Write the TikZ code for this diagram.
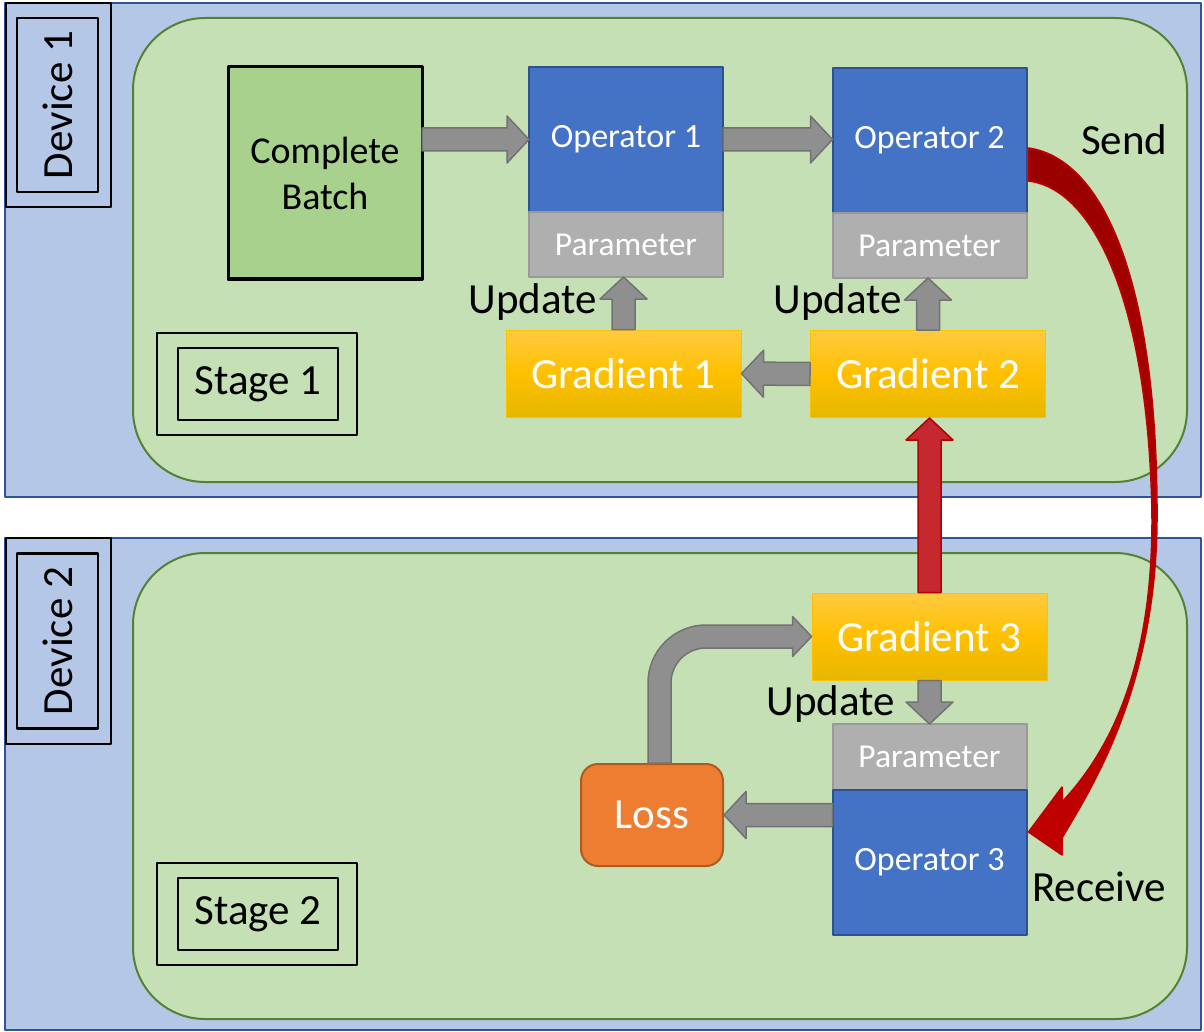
\documentclass[tikz,border=0pt]{standalone}
\usepackage{fontspec}
\setmainfont{Carlito}
\usetikzlibrary{calc,positioning}

\definecolor{devblue}{HTML}{B4C7E7}
\definecolor{devline}{HTML}{2F5597}
\definecolor{stagegreen}{HTML}{C5E0B4}
\definecolor{stageline}{HTML}{548235}
\definecolor{batchgreen}{HTML}{A9D18E}
\definecolor{opblue}{HTML}{4472C4}
\definecolor{opline}{HTML}{2F528F}
\definecolor{pargray}{HTML}{AFAFAF}
\definecolor{parline}{HTML}{999999}
\definecolor{gradtop}{HTML}{FFCA40}
\definecolor{gradmid}{HTML}{FFC000}
\definecolor{gradbot}{HTML}{E6B700}
\definecolor{lossorange}{HTML}{ED7D31}
\definecolor{lossline}{HTML}{AE5A21}
\definecolor{arrgray}{HTML}{8F8F8F}
\definecolor{arrline}{HTML}{727272}
\definecolor{upred}{HTML}{C5282E}
\definecolor{uprline}{HTML}{B00000}
\definecolor{senddark}{HTML}{990000}
\definecolor{sendred}{HTML}{C00000}

% block arrow from #2 to #3 (tip at #3)
\newcommand{\blockarrow}[3][]{%
  \draw[#1] let \p1=#2, \p2=#3, \n1={atan2(\y2-\y1,\x2-\x1)}, \n2={veclen(\x2-\x1,\y2-\y1)} in
    [shift={(\x1,\y1)}, rotate=\n1]
    (0pt,-11.5pt) -- (\n2-22pt,-11.5pt) -- (\n2-22pt,-23.5pt) -- (\n2,0pt)
    -- (\n2-22pt,23.5pt) -- (\n2-22pt,11.5pt) -- (0pt,11.5pt) -- cycle;}

\begin{document}
\begin{tikzpicture}[x=1pt, y=-1pt, line join=round,
	big/.style={font=\fontsize{43}{52}\selectfont},
	devbg/.style={fill=devblue, draw=devline, line width=2pt},
	stagebg/.style={fill=stagegreen, draw=stageline, line width=2pt, rounded corners=72pt},
	labframe/.style={draw=black, line width=2.5pt, inner sep=0pt, outer sep=0pt, big},
	opbox/.style={fill=opblue, draw=opline, line width=2pt, text=white, inner sep=0pt, outer sep=0pt,
		minimum width=194pt, minimum height=145pt, font=\fontsize{34}{40}\selectfont},
	parbox/.style={fill=pargray, draw=parline, line width=2pt, text=white, inner sep=0pt, outer sep=0pt,
		minimum width=194pt, minimum height=65pt, font=\fontsize{33.5}{38}\selectfont},
	gradbox/.style={top color=gradtop, bottom color=gradbot, middle color=gradmid, draw=gradmid,
		line width=1pt, text=white, inner sep=0pt, minimum width=235pt, minimum height=87pt, big},
	lbl/.style={inner sep=0pt, big},
	grayarrow/.style={fill=arrgray, draw=arrline, line width=1.5pt},
	redarrow/.style={fill=upred, draw=uprline, line width=1.5pt},
	sendarrow/.style={top color=senddark, bottom color=sendred, draw=sendred, line width=1.5pt}]
	\useasboundingbox (0,0) rectangle (1204,1032);
	% devices and stages
	\draw[devbg] (5,3) rectangle (1201,497);
	\draw[devbg] (5,538) rectangle (1201,1030);
	\draw[stagebg] (133,18) rectangle (1187,482);
	\draw[stagebg] (133,553) rectangle (1187,1019);
	% labels
	\node[labframe, minimum width=105pt, minimum height=204pt] (dev1frame) at (58.5,105) {};
	\node[labframe, rotate=90, minimum width=174pt, minimum height=81pt] (dev1) at (57.5,105) {Device 1};
	\node[labframe, minimum width=105pt, minimum height=206pt] (dev2frame) at (58.5,641) {};
	\node[labframe, rotate=90, minimum width=175pt, minimum height=81pt] (dev2) at (57.5,641) {Device 2};
	\node[labframe, minimum width=200pt, minimum height=102pt] (st1frame) at (257,384) {};
	\node[labframe, minimum width=160pt, minimum height=72pt] (st1) at (258,384) {Stage 1};
	\node[labframe, minimum width=200pt, minimum height=102pt] (st2frame) at (257,914) {};
	\node[labframe, minimum width=160pt, minimum height=72pt] (st2) at (258,914) {Stage 2};
	% stage 1
	\node[fill=batchgreen, draw=black, line width=3pt, inner sep=0pt, outer sep=0pt, align=center,
		minimum width=194pt, minimum height=212pt, font=\fontsize{38}{46}\selectfont] (batch) at (325,173) {Complete\\Batch};
	\node[opbox] (op1) at (626,139.5) {Operator 1};
	\node[parbox, below=0pt of op1] (par1) {Parameter};
	\node[opbox] (op2) at (929.5,140.5) {Operator 2};
	\node[parbox, below=0pt of op2] (par2) {Parameter};
	\node[gradbox] (g1) at (623.5,373.5) {Gradient 1};
	\node[gradbox] (g2) at (928,374) {Gradient 2};
	% stage 2
	\node[gradbox] (g3) at (929.5,636.5) {Gradient 3};
	\node[parbox, minimum height=66pt] (par3) at (929.5,757) {Parameter};
	\node[opbox, below=0pt of par3] (op3) {Operator 3};
	\node[fill=lossorange, draw=lossline, line width=2pt, rounded corners=17pt, text=white, inner sep=0pt,
		minimum width=142pt, minimum height=102pt, big] (loss) at (652,815) {Loss};
	% texts
	\node[lbl, anchor=base east] (upd1) at (597,313) {Update};
	\node[lbl, anchor=base east] (upd2) at (902,313) {Update};
	\node[lbl, anchor=base east] (upd3) at (895,715) {Update};
	\node[lbl, anchor=base west] (send) at (1081,155) {Send};
	\node[lbl, anchor=base west] (recv) at (1032,901) {Receive};
	% block arrows
	\blockarrow[grayarrow]{(batch.east |- op1.west)}{(op1.west)}
	\blockarrow[grayarrow]{(op1.east)}{(op1.east -| op2.west)}
	\blockarrow[grayarrow]{(g1.north)}{(g1.north |- par1.south)}
	\blockarrow[grayarrow]{(g2.north)}{(g2.north |- par2.south)}
	\blockarrow[grayarrow]{(g2.west)}{(g1.east)}
	\blockarrow[grayarrow]{(g3.south)}{(par3.north)}
	\blockarrow[grayarrow]{(op3.west |- loss.east)}{(loss.east)}
	\blockarrow[redarrow]{(g3.north)}{(g3.north |- g2.south)}
	% loss back to gradient 3
	\draw[grayarrow] let \p1=(loss.north), \p2=(g3.west) in
		(\x1-4pt,\y1) -- (\x1-4pt,\y2+11.5pt-58pt) arc[start angle=180, end angle=90, radius=58pt]
		-- (\x2-19pt,\y2+11.5pt) -- (\x2-19pt,\y2+20pt) -- (\x2,\y2) -- (\x2-19pt,\y2-20pt)
		-- (\x2-19pt,\y2-11.5pt) -- (\x1+54pt,\y2-11.5pt) arc[start angle=90, end angle=180, radius=35pt]
		-- (\x1+19pt,\y1) -- cycle;
	% send / receive
	\draw[sendarrow] ($(op2.east)+(2,7.5)$) .. controls (1110,160) and (1158,300) .. (1157,520)
		.. controls (1156,690) and (1090,790) .. (1062,838) -- (1062,855)
		-- ($(op3.east)+(2,-30.5)$) -- (1062,787) -- (1062,802)
		.. controls (1120,740) and (1152,650) .. (1152,520)
		.. controls (1150,320) and (1100,190) .. ($(op2.east)+(2,40.5)$) -- cycle;
\end{tikzpicture}
\end{document}
